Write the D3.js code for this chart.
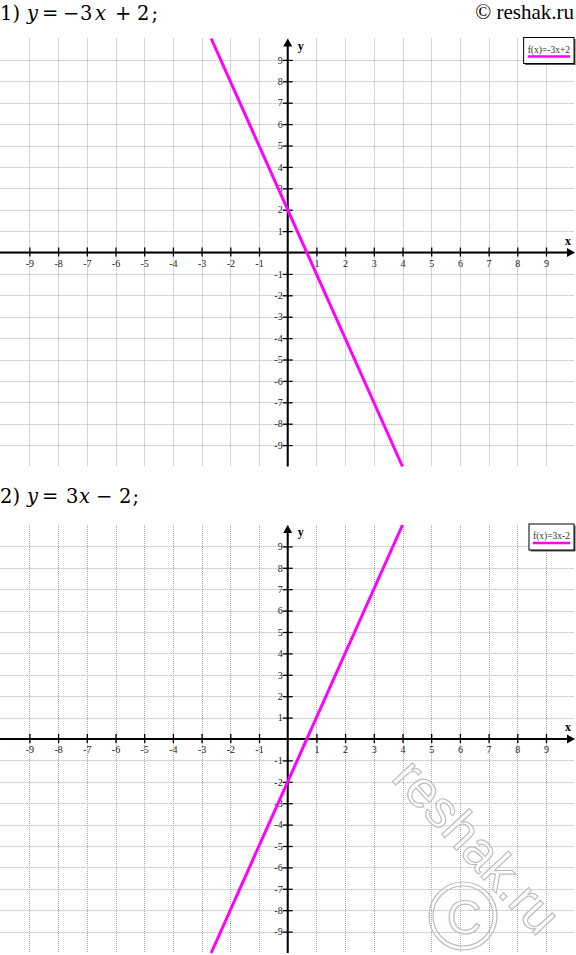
<!DOCTYPE html>
<html>
<head>
<meta charset="utf-8">
<script src="https://cdn.jsdelivr.net/npm/d3@7"></script>
<style>
	body { margin: 0; background: #fff; }
	svg { display: block; }
</style>
</head>
<body>
<svg id="chart" width="576" height="955"></svg>
<script>
	// values
	const xTicks = [-9, -8, -7, -6, -5, -4, -3, -2, -1, 1, 2, 3, 4, 5, 6, 7, 8, 9];
	const yTicks = [-9, -8, -7, -6, -5, -4, -3, -2, -1, 1, 2, 3, 4, 5, 6, 7, 8, 9];
	const gridValues = [-9, -8, -7, -6, -5, -4, -3, -2, -1, 0, 1, 2, 3, 4, 5, 6, 7, 8, 9];
	const domainX = [-10, 10];
	const domainY = [-10, 10];

	// the two graphed lines, as endpoints where they leave the grid
	const line1 = [{ x: -8 / 3, y: 10 }, { x: 4, y: -10 }];
	const line2 = [{ x: -8 / 3, y: -10 }, { x: 4, y: 10 }];
	const legends = ['f(x)=-3x+2', 'f(x)=3x-2'];

	// title pieces: [text, italic, x]
	const title1 = [['1)', false, 0], ['y', true, 27], ['=', false, 42], ['\u2212', false, 63], ['3', false, 80],
		['x', true, 95], ['+', false, 115], ['2', false, 137], [';', false, 151.5]];
	const title2 = [['2)', false, 0], ['y', true, 27], ['=', false, 42], ['3', false, 66], ['x', true, 79],
		['\u2212', false, 96], ['2', false, 119], [';', false, 132.5]];

	const lineColor = '#ff00ff';
	const gridColor = '#ababab';
	const labelColor = '#222';
	const serif = '"Liberation Serif", "DejaVu Serif", serif';
	const mathSerif = '"DejaVu Serif", "Liberation Serif", serif';
	const sans = '"Liberation Sans", Arial, sans-serif';

	const svg = d3.select('#chart');

	function drawTitle(parts, baseline) {
		const t = svg.append('text')
			.attr('y', baseline)
			.style('font-family', mathSerif)
			.style('font-size', '19.5px')
			.attr('fill', '#000');
		parts.forEach(p => {
			t.append('tspan')
				.attr('x', p[2])
				.style('font-style', p[1] ? 'italic' : 'normal')
				.text(p[0]);
		});
	}

	function drawPlot(top, bottom, points, legendText) {
		const x = d3.scaleLinear().domain(domainX).range([0.7, 574.7]);
		const y = d3.scaleLinear().domain(domainY).range([bottom, top]);
		const g = svg.append('g');

		// dotted grid
		const grid = g.append('g')
			.attr('stroke', gridColor)
			.attr('stroke-width', 1)
			.attr('stroke-dasharray', '1,1');
		grid.selectAll('line.v')
			.data(gridValues)
			.enter()
			.append('line')
			.attr('class', 'v')
			.attr('x1', d => Math.round(x(d)) + 0.5)
			.attr('x2', d => Math.round(x(d)) + 0.5)
			.attr('y1', y(domainY[1]))
			.attr('y2', y(domainY[0]));
		grid.selectAll('line.h')
			.data(gridValues)
			.enter()
			.append('line')
			.attr('class', 'h')
			.attr('x1', x(domainX[0]))
			.attr('x2', x(domainX[1]))
			.attr('y1', d => Math.round(y(d)) + 0.5)
			.attr('y2', d => Math.round(y(d)) + 0.5);

		// axes lines with arrows
		const x0 = x(0), y0 = y(0);
		g.append('line')
			.attr('x1', 0).attr('x2', 569)
			.attr('y1', y0).attr('y2', y0)
			.attr('stroke', '#000').attr('stroke-width', 2);
		g.append('path')
			.attr('d', `M575,${y0}L567,${y0 - 4.5}L567,${y0 + 4.5}Z`)
			.attr('fill', '#000');
		g.append('line')
			.attr('x1', x0).attr('x2', x0)
			.attr('y1', y(domainY[0])).attr('y2', top + 6)
			.attr('stroke', '#000').attr('stroke-width', 2);
		g.append('path')
			.attr('d', `M${x0},${top}L${x0 - 4.5},${top + 8}L${x0 + 4.5},${top + 8}Z`)
			.attr('fill', '#000');

		// ticks and labels
		const xAxis = g.append('g')
			.attr('transform', `translate(0,${y0})`)
			.call(d3.axisBottom(x).tickValues(xTicks).tickSize(5).tickFormat(d => d.toString()));
		const yAxis = g.append('g')
			.attr('transform', `translate(${x0},0)`)
			.call(d3.axisLeft(y).tickValues(yTicks).tickSize(5).tickFormat(d => d.toString()));
		[xAxis, yAxis].forEach(a => {
			a.select('.domain').remove();
			a.selectAll('line').attr('stroke', '#000').attr('stroke-width', 1.3);
			a.selectAll('text')
				.attr('fill', labelColor)
				.style('font-family', serif)
				.style('font-size', '10px');
		});
		xAxis.selectAll('line').attr('y1', -5).attr('y2', 4);
		xAxis.selectAll('text').attr('y', 7);
		yAxis.selectAll('line').attr('x1', 5).attr('x2', -5);
		yAxis.selectAll('text').attr('x', -5);

		g.append('text')
			.attr('x', 568).attr('y', y0 - 8)
			.attr('text-anchor', 'middle')
			.style('font-family', serif).style('font-size', '12px').style('font-weight', 'bold')
			.text('x');
		g.append('text')
			.attr('x', x0 + 13).attr('y', top + 11)
			.attr('text-anchor', 'middle')
			.style('font-family', serif).style('font-size', '12px').style('font-weight', 'bold')
			.text('y');

		// the function
		g.append('path')
			.datum(points)
			.attr('d', d3.line().x(d => x(d.x)).y(d => y(d.y)))
			.attr('stroke', lineColor)
			.attr('stroke-width', 3)
			.attr('fill', 'none');

		// legend box in the top right corner
		const leg = g.append('g');
		const txt = leg.append('text')
			.attr('y', top + 14)
			.attr('fill', '#333')
			.style('font-family', serif)
			.style('font-size', '9.5px')
			.text(legendText);
		const w = txt.node().getComputedTextLength() + 8;
		const bx = 574 - w;
		const by = top - 1;
		leg.insert('rect', 'text')
			.attr('x', bx + 1.5).attr('y', by + 1.5)
			.attr('width', w).attr('height', 26)
			.attr('fill', '#555');
		leg.insert('rect', 'text')
			.attr('x', bx).attr('y', by)
			.attr('width', w).attr('height', 26)
			.attr('fill', '#fff')
			.attr('stroke', '#000')
			.attr('stroke-width', 1);
		txt.attr('x', bx + 4);
		leg.append('line')
			.attr('x1', bx + 4).attr('x2', bx + w - 4)
			.attr('y1', top + 18).attr('y2', top + 18)
			.attr('stroke', lineColor)
			.attr('stroke-width', 2.5);
	}

	drawTitle(title1, 20);
	svg.append('text')
		.attr('x', 574).attr('y', 19)
		.attr('text-anchor', 'end')
		.style('font-family', serif)
		.style('font-size', '21px')
		.text('\u00a9 reshak.ru');
	drawPlot(38.5, 466.5, line1, legends[0]);

	drawTitle(title2, 503);
	drawPlot(525, 953, line2, legends[1]);

	// faint watermark, laid out letter by letter along a slanted baseline
	const wm = svg.append('g')
		.attr('fill', '#fff')
		.attr('fill-opacity', 0.55)
		.attr('stroke', '#bdbdbd')
		.attr('stroke-width', 1.2);
	const wmText = 'reshak.ru';
	const meas = wm.append('text')
		.style('font-family', sans)
		.style('font-size', '52px')
		.text(wmText);
	const total = meas.node().getComputedTextLength();
	const offs = wmText.split('').map((c, i) => meas.node().getStartPositionOfChar(i).x);
	meas.remove();
	wm.selectAll('text.wm')
		.data(wmText.split(''))
		.enter()
		.append('text')
		.attr('class', 'wm')
		.attr('transform', (c, i) => `translate(477,846) rotate(47) translate(${offs[i] - total / 2},0)`)
		.attr('dominant-baseline', 'central')
		.style('font-family', sans)
		.style('font-size', '52px')
		.text(c => c);
	wm.append('circle').attr('cx', 463).attr('cy', 916).attr('r', 34).attr('fill', 'none');
	wm.append('circle').attr('cx', 463).attr('cy', 916).attr('r', 30).attr('fill', 'none');
	wm.append('text')
		.attr('x', 464).attr('y', 917)
		.attr('text-anchor', 'middle')
		.attr('dominant-baseline', 'central')
		.style('font-family', sans)
		.style('font-size', '48px')
		.text('C');
</script>
</body>
</html>
